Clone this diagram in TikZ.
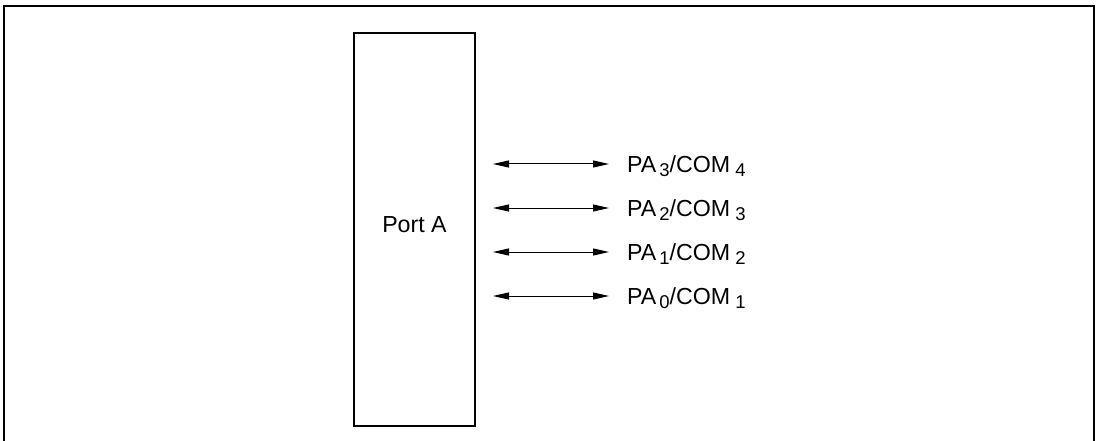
\documentclass[tikz,border=0pt]{standalone}
\usepackage{fontspec}
\setmainfont{Liberation Sans}
\usetikzlibrary{arrows.meta}

\newcommand{\pinsub}[1]{\raisebox{-4pt}{\fontsize{18.5}{22}\selectfont #1}}

\begin{document}
\begin{tikzpicture}[x=1pt, y=-1pt, >={Triangle[length=16pt, width=7pt]},
    font=\fontsize{23.2}{27}\selectfont]
\useasboundingbox (0,0) rectangle (1098,441);
\draw[line width=2pt] (4,441) -- (4,6) -- (1094,6) -- (1094,441);
\node[draw, line width=1.6pt, minimum width=121pt, minimum height=393pt] (porta) at (414.5,229.5) {};
\node (portname) at ([yshift=4.5pt]porta.center) {Port A};
\foreach \i/\y/\c in {3/164/4, 2/208/3, 1/252/2, 0/296/1} {
    \coordinate (l\i) at (493,\y);
    \coordinate (r\i) at (609,\y);
    \draw[<->, line width=1pt] (l\i) -- (r\i);
    \node[anchor=base west, inner sep=0pt] (pa\i) at (627,\y+8.5)
        {PA\kern3pt\pinsub{\i}/COM\kern5pt\pinsub{\c}};
}
\end{tikzpicture}
\end{document}
